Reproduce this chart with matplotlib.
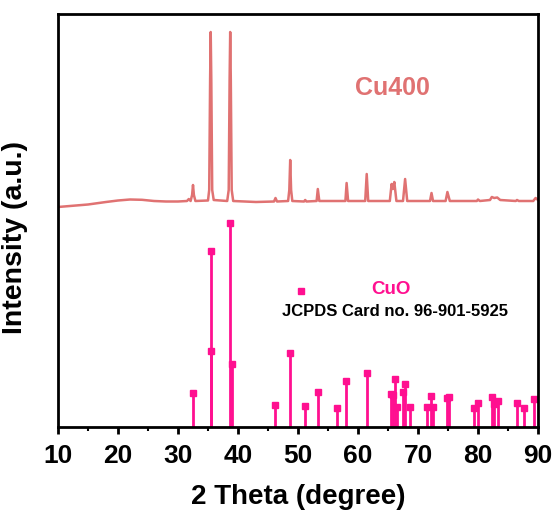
import matplotlib.pyplot as plt

plt.rcParams['font.family'] = ['Liberation Sans', 'DejaVu Sans']
plt.rcParams['font.weight'] = 'bold'

cu400_2theta = [10, 12, 15, 18, 20, 22, 24, 26, 28, 30, 31.5, 31.8, 32.1, 32.35, 32.5, 32.65, 32.9,
                35.0, 35.2, 35.35, 35.45, 35.55, 35.7, 35.95, 38.2, 38.45, 38.6, 38.7, 38.8, 38.95, 39.2,
                43, 46.0, 46.25, 46.5, 48.35, 48.55, 48.7, 48.85, 49.05, 51.0, 51.2, 51.4,
                53.1, 53.3, 53.55, 57.9, 58.1, 58.35, 61.2, 61.45, 61.7,
                65.3, 65.6, 65.8, 66.05, 66.4, 67.5, 67.85, 68.2, 72.0, 72.25, 72.5,
                74.6, 74.9, 75.3, 79.8, 80.0, 80.3, 82.0, 82.3, 82.7, 83.2, 83.7,
                86.3, 86.5, 86.8, 89.2, 89.6, 90]
cu400_int = [220, 221, 222.5, 225, 226.5, 227.5, 227.2, 226, 225.5, 225.5, 226, 228, 226, 232, 242, 232, 226,
             226.5, 237, 347, 395, 347, 237, 227, 226, 237, 347, 395, 347, 237, 226,
             225, 225.5, 229, 225.5, 226, 237, 267, 237, 226, 225.5, 227, 225.5,
             226, 238, 226, 226, 244, 226, 226, 253, 226,
             226, 243, 238, 245, 226, 226, 248, 226, 226, 234, 226,
             226, 235, 226, 226, 227.5, 226, 227, 230, 229, 229.5, 227,
             226, 227, 226, 226, 229, 227]

# CuO reference sticks (JCPDS 96-901-5925)
cuo_2theta = [32.5, 35.45, 35.55, 38.7, 39.0, 46.2, 48.7, 51.2, 53.3, 56.5, 58.05, 61.45,
              65.5, 65.8, 66.15, 66.45, 67.45, 67.85, 68.7, 71.55, 72.1, 72.55, 74.8, 75.1,
              79.3, 80.05, 82.3, 82.7, 83.4, 86.45, 87.7, 89.4]
cuo_int = [34, 176, 76, 204, 63, 22, 74, 21, 35, 19, 46, 54,
           33, 32, 48, 20, 35, 43, 20, 20, 31, 20, 29, 30,
           19, 24, 30, 23, 26, 24, 19, 28]

fig = plt.figure(figsize=(5.55, 5.15), dpi=100)
ax = fig.add_axes([0.1045, 0.1709, 0.8649, 0.8019])

ax.plot(cu400_2theta, cu400_int, color='#e07272', lw=1.8)
ax.vlines(cuo_2theta, 0, cuo_int, color='#ff1090', lw=2)
ax.plot(cuo_2theta, cuo_int, 's', color='#ff1090', ms=4)

# legend-like annotations
ax.plot([50.45], [136], 's', color='#ff1090', ms=4)
ax.text(65.5, 137, 'CuO', color='#ff1090', fontsize=13.5, ha='center', va='center', weight='bold')
ax.text(66.1, 115, 'JCPDS Card no. 96-901-5925', color='black', fontsize=12, ha='center', va='center',
        weight='bold')
ax.text(65.7, 339, 'Cu400', color='#e07272', fontsize=18, ha='center', va='center', weight='bold')

ax.set_xlim(10, 90)
ax.set_ylim(0, 413)
ax.set_xticks(range(10, 91, 10))
ax.set_xticks(range(15, 90, 10), minor=True)
ax.set_yticks([])
ax.tick_params(axis='x', which='major', direction='out', length=5, width=2, labelsize=19, pad=7)
ax.tick_params(axis='x', which='minor', direction='out', length=3, width=1.5)
for lab in ax.get_xticklabels():
    lab.set_fontweight('bold')
for s in ax.spines.values():
    s.set_linewidth(2)

ax.set_xlabel('2 Theta (degree)', fontsize=20, weight='bold', labelpad=12)
ax.set_ylabel('Intensity (a.u.)', fontsize=20.5, weight='bold')
ax.yaxis.set_label_coords(-0.062, 0.46)

fig.savefig('out.png', dpi=100)
